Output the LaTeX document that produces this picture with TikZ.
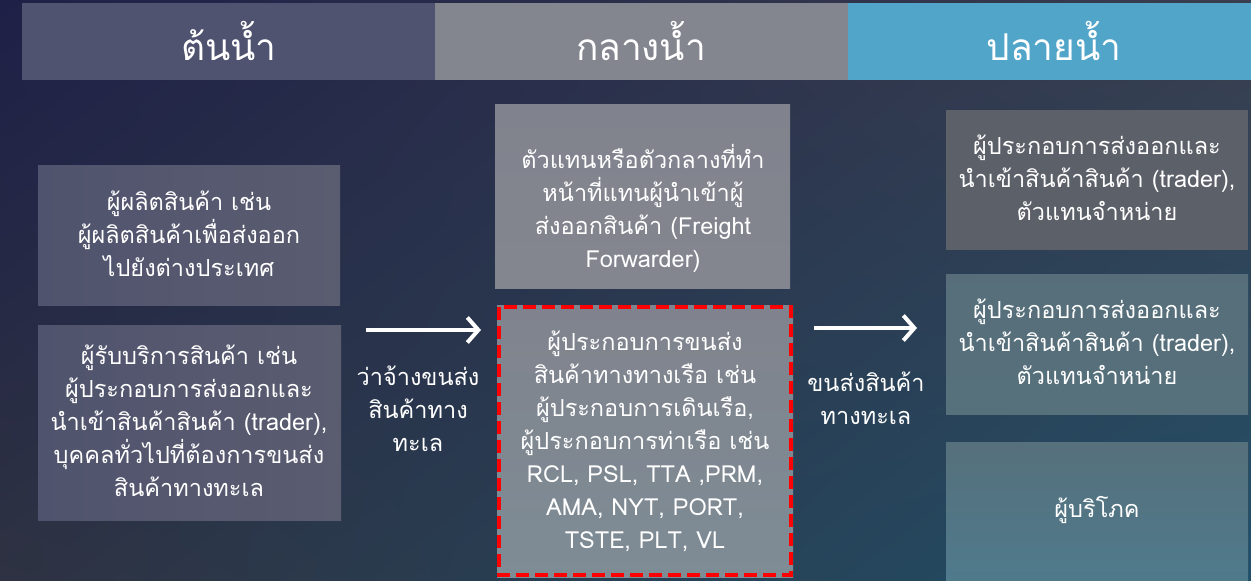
\documentclass[tikz,border=0pt]{standalone}
\usepackage{fontspec}
\newfontfamily\thaifont[Script=Thai]{Loma}
\usetikzlibrary{arrows.meta,shadings}
\definecolor{bgUL}{HTML}{1E2047}
\definecolor{bgUR}{HTML}{3A3E4E}
\definecolor{bgLL}{HTML}{2E3242}
\definecolor{bgLR}{HTML}{214F68}
\definecolor{hA}{HTML}{4F5370}
\definecolor{hB}{HTML}{84868F}
\definecolor{hC}{HTML}{51A5C9}
\definecolor{leftA}{HTML}{50536D}
\definecolor{leftB}{HTML}{5A5D70}
\definecolor{midA}{HTML}{80838D}
\definecolor{midB}{HTML}{7E8C95}
\definecolor{rA}{HTML}{5C6069}
\definecolor{rB}{HTML}{56707C}
\definecolor{rC}{HTML}{4F7A8C}
\tikzset{
  hdr/.style={font=\thaifont\fontsize{37}{42}\selectfont, text=white, inner sep=0pt},
  txt/.style={font=\thaifont\fontsize{23.5}{33}\selectfont, text=white, align=center, inner sep=0pt},
  flowarrow/.style={draw=white, line width=4pt, -{Straight Barb[length=11pt,width=25pt,line width=4pt]}}
}
\begin{document}
\begin{tikzpicture}[x=1pt,y=-1pt]
\useasboundingbox (0,0) rectangle (1251,581);
\shade[upper left=bgUL, upper right=bgUR, lower left=bgLL, lower right=bgLR] (0,0) rectangle (1251,581);
% header bands
\fill[hA] (22,3) rectangle (435,80);
\fill[hB] (435,3) rectangle (848,80);
\fill[hC] (848,3) rectangle (1251,80);
\node[hdr] (h1) at (229,41) {ต้นน้ำ};
\node[hdr] (h2) at (641,41) {กลางน้ำ};
\node[hdr] (h3) at (1054,41) {ปลายน้ำ};
% left boxes
\shade[left color=leftA, right color=leftB] (38,165) rectangle (340,305);
\node[txt] (l1) at (189,234) {ผู้ผลิตสินค้า เช่น\\ผู้ผลิตสินค้าเพื่อส่งออก\\ไปยังต่างประเทศ};
\shade[left color=leftA, right color=leftB] (38,325) rectangle (341,520);
\node[txt] (l2) at (189,421) {ผู้รับบริการสินค้า เช่น\\ผู้ประกอบการส่งออกและ\\นำเข้าสินค้าสินค้า (trader),\\บุคคลทั่วไปที่ต้องการขนส่ง\\สินค้าทางทะเล};
% middle boxes
\shade[top color=midA, bottom color=hB] (495,104) rectangle (790,288);
\node[txt] (m1) at (643,208) {ตัวแทนหรือตัวกลางที่ทำ\\หน้าที่แทนผู้นำเข้าผู้\\ส่งออกสินค้า (Freight\\Forwarder)};
\shade[top color=midA, bottom color=midB] (497,305) rectangle (793,577);
\draw[red, line width=4.5pt, dash pattern=on 13pt off 6pt] (499,307) rectangle (791,575);
\node[txt] (m2) at (645,441) {ผู้ประกอบการขนส่ง\\สินค้าทางทางเรือ เช่น\\ผู้ประกอบการเดินเรือ,\\ผู้ประกอบการท่าเรือ เช่น\\RCL, PSL, TTA ,PRM,\\AMA, NYT, PORT,\\TSTE, PLT, VL};
% right boxes
\fill[rA] (946,110) rectangle (1248,250);
\node[txt] (r1) at (1097,178) {ผู้ประกอบการส่งออกและ\\นำเข้าสินค้าสินค้า (trader),\\ตัวแทนจำหน่าย};
\shade[top color=rB!90!rA, bottom color=rB] (946,274) rectangle (1248,414);
\node[txt] (r2) at (1097,342) {ผู้ประกอบการส่งออกและ\\นำเข้าสินค้าสินค้า (trader),\\ตัวแทนจำหน่าย};
\shade[top color=rB, bottom color=rC] (946,442) rectangle (1248,581);
\node[txt] (r3) at (1097,510) {ผู้บริโภค};
% arrows
\coordinate (a1s) at (366,330);
\coordinate (a1e) at (481,330);
\draw[flowarrow] (a1s) -- (a1e);
\node[txt] (lab1) at (418,409) {ว่าจ้างขนส่ง\\สินค้าทาง\\ทะเล};
\coordinate (a2s) at (814,328);
\coordinate (a2e) at (917,328);
\draw[flowarrow] (a2s) -- (a2e);
\node[txt] (lab2) at (866,398) {ขนส่งสินค้า\\ทางทะเล};
\end{tikzpicture}
\end{document}
